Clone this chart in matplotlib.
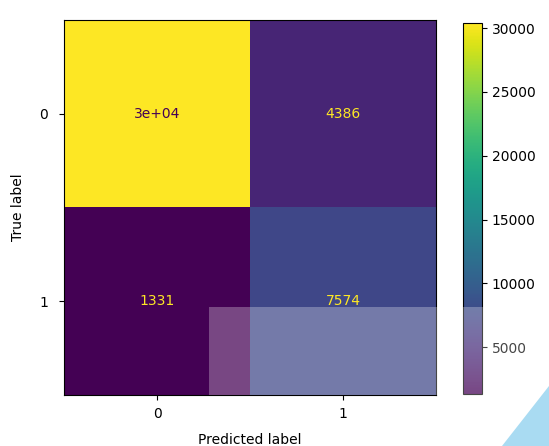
import numpy as np
import matplotlib
matplotlib.use("Agg")
import matplotlib.pyplot as plt
from matplotlib.patches import Rectangle, Polygon

labels = ["0", "1"]
cm = np.array([[30400, 4386],
               [1331, 7574]])

fig = plt.figure(figsize=(5.49, 4.46), dpi=100)
ax = fig.add_axes([64/549, 51/446, 372/549, 375/446])
cax = fig.add_axes([463/549, 52/446, 19/549, 371/446])

cmap = plt.get_cmap("viridis")
im = ax.imshow(cm, cmap=cmap, interpolation="nearest", aspect="auto")
vmin, vmax = cm.min(), cm.max()
thresh = (vmin + vmax) / 2.0
for i in range(2):
    for j in range(2):
        v = cm[i, j]
        txt = format(v, ".2g")
        d = format(v, "d")
        if len(d) < len(txt):
            txt = d
        color = cmap(0.0) if v >= thresh else cmap(1.0)
        ax.text(j, i, txt, ha="center", va="center", color=color, fontsize=10)

ax.set_xticks(range(2))
ax.set_yticks(range(2))
ax.set_xticklabels(labels)
ax.set_yticklabels(labels)
ax.tick_params(axis="y", pad=8)
ax.tick_params(axis="x", pad=5)
ax.set_xlabel("Predicted label", labelpad=9)
ax.set_ylabel("True label", labelpad=10)

cb = fig.colorbar(im, cax=cax)
cb.set_ticks([5000, 10000, 15000, 20000, 25000, 30000])

# screenshot artifacts: translucent overlay and corner triangle
fig.patches.append(Rectangle((209/549, 51/446), 340/549, 88/446,
                             transform=fig.transFigure, facecolor="white",
                             alpha=0.28, edgecolor="none", zorder=10))
fig.patches.append(Polygon([(549/549, 60/446), (549/549, 0), (502/549, 0)],
                           closed=True, transform=fig.transFigure,
                           facecolor="#a9dbf2", edgecolor="none", zorder=10))

fig.savefig("out.png", dpi=100)
